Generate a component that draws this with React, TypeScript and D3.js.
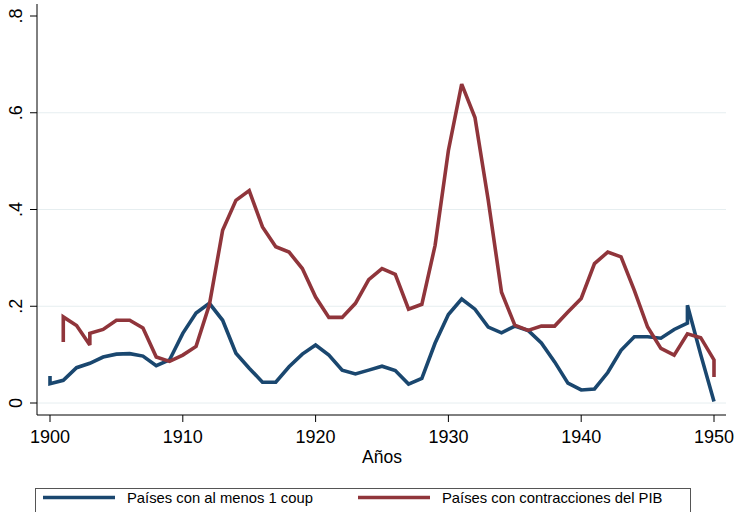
import { useLayoutEffect, useRef } from 'react'
import * as d3 from 'd3'

// years repeat where the original series jumps vertically within a year
const coupYears = [
  1900, 1900, 1901, 1902, 1903, 1904, 1905, 1906, 1907, 1908, 1909, 1910, 1911, 1912, 1913, 1914, 1915,
  1916, 1917, 1918, 1919, 1920, 1921, 1922, 1923, 1924, 1925, 1926, 1927, 1928, 1929, 1930, 1931, 1932,
  1933, 1934, 1935, 1936, 1937, 1938, 1939, 1940, 1941, 1942, 1943, 1944, 1945, 1946, 1947, 1948, 1948,
  1949, 1950,
]
const coupValues = [
  0.056, 0.04, 0.047, 0.073, 0.082, 0.095, 0.101, 0.102, 0.097, 0.077, 0.089, 0.144, 0.186, 0.206, 0.171,
  0.103, 0.072, 0.043, 0.043, 0.075, 0.101, 0.12, 0.099, 0.068, 0.06, 0.068, 0.076, 0.067, 0.039, 0.051,
  0.124, 0.183, 0.215, 0.194, 0.157, 0.145, 0.159, 0.15, 0.124, 0.085, 0.041, 0.027, 0.029, 0.063, 0.109,
  0.137, 0.137, 0.134, 0.152, 0.165, 0.202, 0.1, 0.003,
]

const pibYears = [
  1901, 1901, 1902, 1903, 1903, 1904, 1905, 1906, 1907, 1908, 1909, 1910, 1911, 1912, 1913, 1914, 1915,
  1916, 1917, 1918, 1919, 1920, 1921, 1922, 1923, 1924, 1925, 1926, 1927, 1928, 1929, 1930, 1931, 1932,
  1933, 1934, 1935, 1936, 1937, 1938, 1939, 1940, 1941, 1942, 1943, 1944, 1945, 1946, 1947, 1948, 1949,
  1950, 1950,
]
const pibValues = [
  0.126, 0.178, 0.16, 0.12, 0.144, 0.152, 0.171, 0.171, 0.155, 0.095, 0.086, 0.099, 0.117, 0.203, 0.357,
  0.419, 0.439, 0.364, 0.323, 0.312, 0.278, 0.219, 0.177, 0.177, 0.206, 0.255, 0.278, 0.266, 0.194, 0.204,
  0.326, 0.522, 0.659, 0.59, 0.419, 0.229, 0.161, 0.15, 0.159, 0.159, 0.188, 0.216, 0.288, 0.312, 0.302,
  0.233, 0.157, 0.113, 0.099, 0.143, 0.135, 0.089, 0.054,
]

const xTicks = [1900, 1910, 1920, 1930, 1940, 1950]
const yTicks = [0, 0.2, 0.4, 0.6, 0.8]
const yTickLabels = ['0', '.2', '.4', '.6', '.8']

const series = [
  { name: 'Países con al menos 1 coup', years: coupYears, values: coupValues, color: '#1a476f' },
  { name: 'Países con contracciones del PIB', years: pibYears, values: pibValues, color: '#90353b' },
]

const FONT = '"Liberation Sans", Arial, Helvetica, sans-serif'

export default function App() {
  const ref = useRef<HTMLDivElement>(null)

  useLayoutEffect(() => {
    if (!ref.current) return
    const el = ref.current
    el.innerHTML = ''
    document.body.style.margin = '0'

    const width = 735
    const height = 512
    const axisLeft = 37
    const axisRight = 726
    const axisTop = 4
    const axisBottom = 415

    const svg = d3
      .select(el)
      .append('svg')
      .attr('width', width)
      .attr('height', height)
      .style('display', 'block')
      .style('background', '#fff')
      .style('font-family', FONT)

    const x = d3.scaleLinear().domain([1900, 1950]).range([50, 714])
    const y = d3.scaleLinear().domain([0, 0.8]).range([403, 16])

    // gridlines (none at the top tick)
    svg
      .append('g')
      .selectAll('line')
      .data(yTicks.slice(0, -1))
      .join('line')
      .attr('x1', axisLeft)
      .attr('x2', axisRight)
      .attr('y1', (d) => y(d))
      .attr('y2', (d) => y(d))
      .attr('stroke', '#e6eef0')
      .attr('stroke-width', 1)

    // y axis
    svg
      .append('line')
      .attr('x1', axisLeft)
      .attr('x2', axisLeft)
      .attr('y1', axisTop)
      .attr('y2', axisBottom)
      .attr('stroke', '#000')
    yTicks.forEach((t, i) => {
      svg
        .append('line')
        .attr('x1', axisLeft - 7)
        .attr('x2', axisLeft)
        .attr('y1', y(t))
        .attr('y2', y(t))
        .attr('stroke', '#000')
      svg
        .append('text')
        .attr('transform', `translate(22,${y(t)}) rotate(-90)`)
        .attr('text-anchor', 'middle')
        .attr('font-size', 18)
        .attr('fill', '#000')
        .text(yTickLabels[i])
    })

    // x axis
    svg
      .append('line')
      .attr('x1', axisLeft)
      .attr('x2', axisRight)
      .attr('y1', axisBottom)
      .attr('y2', axisBottom)
      .attr('stroke', '#000')
    xTicks.forEach((t) => {
      svg
        .append('line')
        .attr('x1', x(t))
        .attr('x2', x(t))
        .attr('y1', axisBottom)
        .attr('y2', axisBottom + 7)
        .attr('stroke', '#000')
      svg
        .append('text')
        .attr('x', x(t))
        .attr('y', 443)
        .attr('text-anchor', 'middle')
        .attr('font-size', 18)
        .attr('fill', '#000')
        .text(t)
    })

    svg
      .append('text')
      .attr('x', 382)
      .attr('y', 463)
      .attr('text-anchor', 'middle')
      .attr('font-size', 17.5)
      .attr('fill', '#000')
      .text('Años')

    // lines
    const path = d3
      .line<[number, number]>()
      .x((d) => x(d[0]))
      .y((d) => y(d[1]))

    series.forEach((s) => {
      const pts = s.years.map((yr, i) => [yr, s.values[i]] as [number, number])
      svg
        .append('path')
        .attr('d', path(pts))
        .attr('fill', 'none')
        .attr('stroke', s.color)
        .attr('stroke-width', 3.6)
        .attr('stroke-linejoin', 'miter')
        .attr('stroke-miterlimit', 3)
    })

    // legend
    const lg = svg.append('g')
    lg.append('rect')
      .attr('x', 35.5)
      .attr('y', 488.5)
      .attr('width', 655)
      .attr('height', 40)
      .attr('fill', '#fff')
      .attr('stroke', '#555')
    const legendPos = [
      { lx: 43, tx: 127 },
      { lx: 358, tx: 442 },
    ]
    series.forEach((s, i) => {
      const p = legendPos[i]
      lg.append('line')
        .attr('x1', p.lx)
        .attr('x2', p.lx + 72)
        .attr('y1', 497.5)
        .attr('y2', 497.5)
        .attr('stroke', s.color)
        .attr('stroke-width', 3.6)
      lg.append('text')
        .attr('x', p.tx)
        .attr('y', 503)
        .attr('font-size', 14.8)
        .attr('fill', '#000')
        .text(s.name)
    })
  }, [])

  return <div ref={ref} />
}
